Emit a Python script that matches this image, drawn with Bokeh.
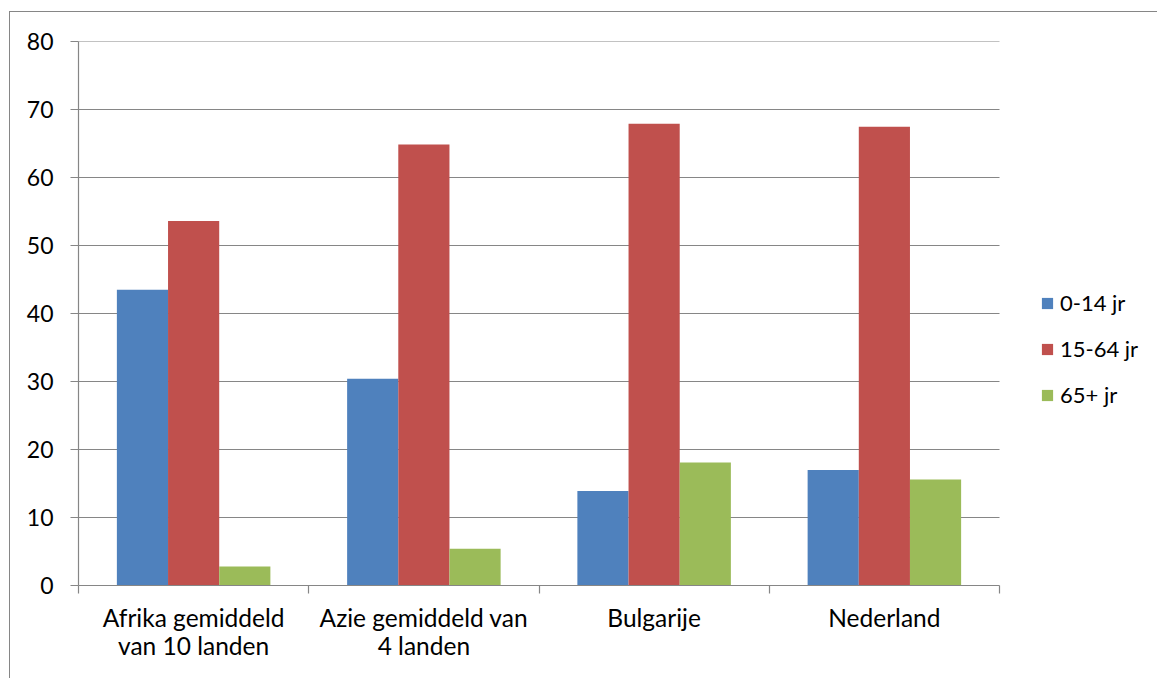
from bokeh.plotting import figure
from bokeh.models import ColumnDataSource, Range1d, FixedTicker, Legend, LegendItem
from bokeh.transform import dodge
from bokeh.embed import file_html
from bokeh.resources import INLINE

categories = ["Afrika gemiddeld\nvan 10 landen", "Azie gemiddeld van\n4 landen", "Bulgarije", "Nederland"]
series = ["0-14 jr", "15-64 jr", "65+ jr"]
v_0_14 = [43.5, 30.4, 13.9, 17.0]
v_15_64 = [53.6, 64.85, 67.9, 67.45]
v_65_plus = [2.8, 5.4, 18.1, 15.6]
y_ticks = [0, 10, 20, 30, 40, 50, 60, 70, 80]
colors = ["#4F81BD", "#C0504D", "#9BBB59"]

FONT = "Lato"
GRID = "#868686"

W, H = 1157, 678
LEFT, TOP, BOTTOM = 78, 41, 93
PLOT_W = 921  # width of the category area in px

n = len(categories)
xc = [i + 0.5 for i in range(n)]
src = ColumnDataSource(dict(x=xc, a=v_0_14, b=v_15_64, c=v_65_plus))

x_end = n * (W - LEFT) / PLOT_W  # frame extends under the legend

p = figure(width=W, height=H, output_backend="svg", toolbar_location=None,
           x_range=Range1d(0, x_end), y_range=Range1d(0, 80),
           min_border_left=LEFT, min_border_right=0, min_border_top=TOP, min_border_bottom=BOTTOM)
p.outline_line_color = None
p.background_fill_color = "white"
p.border_fill_alpha = 0
p.styles = {
    "background": ("linear-gradient(#868686, #868686) 9px 11px / 1px 100% no-repeat, "
                   "linear-gradient(#868686, #868686) 9px 11px / 100% 1px no-repeat, white"),
}

# horizontal gridlines limited to the category area
gy = y_ticks[1:]
p.segment(x0=[0] * len(gy), x1=[n] * len(gy), y0=gy, y1=gy, line_color=GRID, line_width=1.2)

w = 1 / 4.5
r1 = p.vbar(x=dodge("x", -w, range=p.x_range), top="a", width=w, source=src, fill_color=colors[0], line_color=None)
r2 = p.vbar(x=dodge("x", 0, range=p.x_range), top="b", width=w, source=src, fill_color=colors[1], line_color=None)
r3 = p.vbar(x=dodge("x", w, range=p.x_range), top="c", width=w, source=src, fill_color=colors[2], line_color=None)

# x axis: labels at category centres, minor ticks at category boundaries
xa = p.xaxis[0]
xa.bounds = (0, n)
xa.ticker = FixedTicker(ticks=xc, minor_ticks=list(range(n + 1)))
xa.major_label_overrides = {x: c for x, c in zip(xc, categories)}
xa.major_tick_in = 0
xa.major_tick_out = 0
xa.minor_tick_in = 0
xa.minor_tick_out = 8
xa.minor_tick_line_color = GRID
xa.minor_tick_line_width = 1.2
xa.axis_line_color = GRID
xa.axis_line_width = 1.2
xa.major_label_standoff = 9
xa.major_label_text_font = FONT
xa.major_label_text_font_size = "24.5px"
xa.major_label_text_line_height = 0.97
xa.major_label_text_color = "black"

ya = p.yaxis[0]
ya.ticker = FixedTicker(ticks=y_ticks)
ya.major_tick_in = 0
ya.major_tick_out = 8
ya.minor_tick_line_color = None
ya.major_tick_line_color = GRID
ya.major_tick_line_width = 1.2
ya.axis_line_color = GRID
ya.axis_line_width = 1.2
ya.major_label_standoff = 17
ya.major_label_text_font = FONT
ya.major_label_text_font_size = "23px"
ya.major_label_text_color = "black"

p.xgrid.grid_line_color = None
p.ygrid.grid_line_color = None

legend = Legend(items=[LegendItem(label=series[0], renderers=[r1]),
                       LegendItem(label=series[1], renderers=[r2]),
                       LegendItem(label=series[2], renderers=[r3])],
                location=(962, 177), orientation="vertical",
                glyph_width=14, glyph_height=14, label_standoff=6, spacing=19,
                padding=0, margin=0, border_line_color=None, background_fill_alpha=0,
                label_text_font=FONT, label_text_font_size="22px", label_text_color="black")
p.add_layout(legend, "center")

open("out.html", "w").write(file_html(p, INLINE))
